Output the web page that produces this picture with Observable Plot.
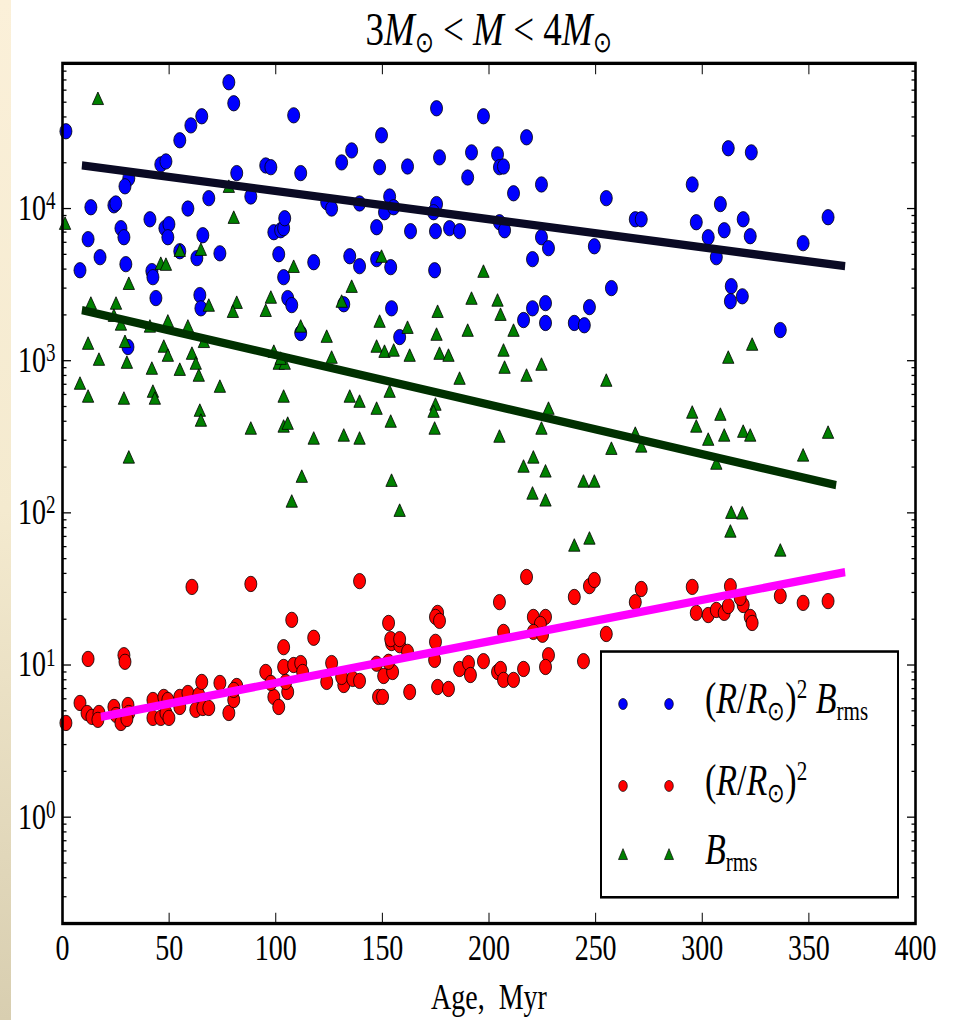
<!DOCTYPE html>
<html><head><meta charset="utf-8">
<script src="https://cdn.jsdelivr.net/npm/d3@7"></script>
<script src="https://cdn.jsdelivr.net/npm/@observablehq/plot@0.6"></script>
<style>
html,body{margin:0;padding:0;background:#fff;}
body{width:955px;height:1020px;overflow:hidden;position:relative;font-family:"Liberation Serif",serif;color:#000;}
#strip{position:absolute;left:0;top:0;width:11px;height:1020px;background:linear-gradient(#fbf0d9,#f4eacf 50%,#d8ceb0);}
#wrap{position:absolute;left:0;top:0;width:955px;height:797px;transform:scaleY(1.28);transform-origin:0 0;}
#wrap svg{position:absolute;left:0;top:0;}
#title{position:absolute;left:0;top:3px;width:977px;text-align:center;font-size:37px;line-height:40px;white-space:nowrap;}
#title sub,#legend sub{font-size:0.62em;vertical-align:-0.25em;line-height:0;}
#legend sup{font-size:0.62em;vertical-align:0.55em;line-height:0;}
#legend{position:absolute;left:600px;top:508px;width:299px;height:194px;box-sizing:border-box;border:2.5px solid #000;background:#fff;}
#legend .row{position:absolute;left:0;height:30px;width:295px;}
#legend .row svg{position:absolute;left:0;top:0;}
#legend .lab{position:absolute;left:103px;top:-7px;font-size:34px;line-height:36px;white-space:nowrap;}
</style></head>
<body>
<div id="strip"></div>
<div id="wrap">
  <div id="title">3<i>M</i><sub>⊙</sub> &lt; <i>M</i> &lt; 4<i>M</i><sub>⊙</sub></div>
</div>
<script>
// ---- data ----
const xTicks = [0, 50, 100, 150, 200, 250, 300, 350, 400];
const yMajor = [1, 10, 100, 1000, 10000];
const yMinor = [0.2,0.3,0.4,0.5,0.6,0.7,0.8,0.9, 2,3,4,5,6,7,8,9, 20,30,40,50,60,70,80,90,
  200,300,400,500,600,700,800,900, 2000,3000,4000,5000,6000,7000,8000,9000, 20000,30000,40000,50000,60000,70000,80000,90000];

const blueAge = [1.6,78,80.3,108.4,65.3,60.2,55,46.1,48.5,81.7,95.3,97.7,111.7,31.1,29.3,88.3,13.3,24.1,25,68.6,58.8,41,27.4,28.8,48,49.9,49.4,12,65.8,99.1,102.3,103.7,104.2,55,63,73.8,17.6,101.4,8.2,29.7,41.9,42.4,117.8,103.7,43.8,64.4,64.9,105.6,107.5,111.7,30.7,
  175.4,197.4,217.6,149.6,135.6,130.9,148.7,161.8,176.8,191.8,204,204.9,206.8,190,224.6,211.5,255,123.9,126.2,139.3,153.4,151,155.3,175.4,174,204.9,207.3,147.3,163.2,174.9,181.5,186.2,224.6,227.9,249.4,134.7,139.3,147.3,153.9,220.4,174.5,257.4,131.9,154.3,226.5,220.4,216.2,226.5,247.1,240,244.7,158.1,
  312.2,323,295.3,308.5,268.6,271.4,297.2,319.2,310.3,322.5,302.8,359,347.3,306.6,313.6,313.2,318.8,336.6];
const blueVal = [32200,67600,49200,41000,40400,35200,28100,19500,20400,17100,19200,18700,17100,15800,14000,12000,10200,10500,10800,11700,10000,8500,7430,6480,7430,7890,6480,6290,6680,6990,7200,7430,8640,5240,4720,5080,4790,5010,3930,4310,3880,3540,4440,3540,2580,2700,2210,2580,2320,1520,1230,
  45600,40400,29400,30300,24100,20100,18700,18900,21700,23400,22700,18700,18900,16000,14400,12600,11700,11000,10000,10800,12000,9460,10200,10700,9460,8130,7200,7540,7100,7100,7430,7100,6480,5490,5650,4860,4180,4650,4120,4650,3930,3000,2350,2210,2390,2210,1850,1770,2250,1770,1710,1430,
  24900,23400,14400,10700,8500,8500,8130,8500,7200,6580,6480,8770,5920,4790,3090,2460,2650,1590];

const redAge = [60.7,88.3,107.5,117.8,1.6,12,28.8,29.3,8.2,11.5,13.8,17.1,16.6,24.1,25.1,27.4,30.7,31.1,30.2,42.4,42.4,46.1,47.5,49.4,48.5,49.9,55,55,58.8,62.5,63.9,65.3,65.8,68.6,73.8,78,80.3,81.7,80.3,95.3,99.1,101.4,97.7,103.7,103.7,105.6,104.7,108.4,111.7,112.6,
  123.9,126.2,131.9,130.9,136.1,139.3,147.3,148.2,150.1,150.6,152.9,154.3,154.8,158.1,152.9,161.8,162.8,174.9,174.5,175.9,175.9,174.9,176.8,181,186.2,190.4,191.3,197.4,204.9,206.8,204,205.4,206.8,211.5,216.2,220.8,226.5,224.1,220.8,225.1,227.9,226.5,240,244.3,255,139.3,217.6,247.1,249.4,153.9,158.1,
  295.3,268.6,271.4,297.2,302.8,306.6,310.3,312.2,313.2,319.2,317.8,322.5,323.4,336.6,347.3,359];
const redVal = [32.6,34.1,19.8,15.1,4.16,10.96,11.6,10.5,5.63,4.84,4.56,4.84,4.36,5.3,4.7,4.16,5.46,4.84,4.42,5.89,4.49,4.49,6.17,5.89,4.84,4.49,6.17,5.3,6.55,5.07,6.36,7.74,5.22,5.22,7.62,4.84,5.89,7.28,6.86,9.0,6.17,5.3,7.62,13.1,9.71,6.65,7.74,10.0,10.3,9.0,
  7.74,10.3,7.39,8.35,8.1,7.86,10.2,6.17,6.17,8.47,18.9,13.95,9.0,13.5,10.5,12.2,6.65,14.2,10.8,7.17,22.0,20.7,19.5,6.96,9.42,10.3,8.6,10.6,25.9,16.5,9.0,9.42,7.98,7.98,9.42,20.7,20.7,18.6,16.5,15.8,11.6,9.71,28.0,10.6,16.0,35.6,37.9,33.0,36.2,14.8,14.8,
  32.6,25.9,31.6,22.0,21.3,23.0,22.0,24.4,33.0,24.8,27.6,20.7,18.9,28.4,25.6,26.3];

const greenAge = [16.6,1.2,78,80.3,55,64.9,46.1,48.5,31.1,108.4,13.3,25.1,24.1,27.4,41,49.4,58.8,68.6,81.7,79.9,97.7,95.3,111.7,12,17.1,29.3,30.2,47.5,49.4,41.9,55,60.7,62.5,63.9,66.3,73.8,8.2,12,28.8,42.4,43.3,64.4,64.9,31.1,88.3,99.1,101.4,104.2,102.3,103.7,103.7,105.6,117.8,112.2,107.5,
  123.9,126.2,148.7,161.8,147.3,151,155.3,162.8,175.9,175.4,176.8,181,190,191.8,204,205.4,211.5,206.8,207.3,186.2,217.6,224.6,255,134.7,139.3,147.3,153.4,153.9,174.9,174,174.5,131.9,139.3,154.3,158.1,227.9,224.6,204.9,257.4,220.8,216.2,226.5,244.3,249.4,220.4,226.5,240,247.1,149.6,135.6,130.9,197.4,
  323.4,312.2,295.3,297.2,308.5,302.8,310.3,319.2,322.5,359,268.6,271.4,306.6,347.3,313.6,318.8,313.2,336.6];
const greenVal = [51400,7770,13600,8510,5160,5240,4240,4180,3130,4050,2320,2320,1930,1690,1640,1770,1640,2250,2350,2050,2540,2080,1640,1265,993,1300,949,1210,1055,867,853,1087,935,780,1300,660,691,568,551,612,551,459,395,226,350,1120,935,935,1008,568,361,377,301,169,116,
  1406,1024,1765,1610,1210,1120,1140,1055,2050,1450,1087,1055,1540,2500,2430,1960,1540,1140,880,745,780,921,723,568,526,473,612,389,503,452,350,315,301,159,101,473,350,310,258,226,197,183,157,157,131,118,59.6,66.3,4720,2995,2390,3760,
  1247,1024,446,361,432,296,315,334,315,329,324,267,206,233,98,97,73.7,55.3];

const fitBlueAge = [9.1, 367], fitBlueVal = [19200, 4180];
const fitGreenAge = [9.1, 362.8], fitGreenVal = [2150, 152];
const fitRedAge = [18, 367], fitRedVal = [4.56, 40.8];

// ---- build tables ----
const rows = (a, v) => a.map((x, i) => ({age: x, val: v[i]}));
const blue = rows(blueAge, blueVal), red = rows(redAge, redVal), green = rows(greenAge, greenVal);
const fitB = rows(fitBlueAge, fitBlueVal), fitG = rows(fitGreenAge, fitGreenVal), fitR = rows(fitRedAge, fitRedVal);

const blank = () => "";
const plot = Plot.plot({
  width: 955, height: 797,
  marginLeft: 62, marginRight: 40, marginTop: 49, marginBottom: 76,
  style: {fontFamily: "'Liberation Serif', serif", fontSize: "28px", background: "transparent", color: "#000"},
  x: {domain: [0, 400]},
  y: {type: "log", domain: [0.2, 90000]},
  marks: [
    Plot.axisX({ticks: xTicks, tickSize: 0, tickPadding: 9, tickFormat: d => String(d), label: null}),
    Plot.axisX({ticks: xTicks, tickSize: -8, tickFormat: blank, label: null}),
    Plot.axisX({anchor: "top", ticks: xTicks, tickSize: -8, tickFormat: blank, label: null}),
    Plot.axisY({ticks: yMajor, tickSize: 0, tickPadding: 7, tickFormat: d => "10^" + Math.round(Math.log10(d)), label: null}),
    Plot.axisY({ticks: yMajor, tickSize: -9, tickFormat: blank, label: null}),
    Plot.axisY({ticks: yMinor, tickSize: -4.5, tickFormat: blank, label: null}),
    Plot.axisY({anchor: "right", ticks: yMajor, tickSize: -9, tickFormat: blank, label: null}),
    Plot.axisY({anchor: "right", ticks: yMinor, tickSize: -4.5, tickFormat: blank, label: null}),
    Plot.dot(blue, {x: "age", y: "val", r: 6, fill: "#0000ff", stroke: "#000", strokeWidth: 0.7}),
    Plot.dot(red, {x: "age", y: "val", r: 6, fill: "#ff0000", stroke: "#000", strokeWidth: 0.7}),
    Plot.dot(green, {x: "age", y: "val", r: 4.2, symbol: "triangle", fill: "#008000", stroke: "#000", strokeWidth: 0.7}),
    Plot.line(fitB, {x: "age", y: "val", stroke: "#0a0a24", strokeWidth: 6.5, strokeLinecap: "butt"}),
    Plot.line(fitG, {x: "age", y: "val", stroke: "#003000", strokeWidth: 6.5, strokeLinecap: "butt"}),
    Plot.line(fitR, {x: "age", y: "val", stroke: "#ff00ff", strokeWidth: 6.5, strokeLinecap: "butt"}),
    Plot.frame({stroke: "#000", strokeWidth: 2.6}),
    Plot.text(["Age,  Myr"], {frameAnchor: "bottom", dy: 58, text: d => d, fontSize: 28, lineAnchor: "middle"})
  ]
});
document.getElementById("wrap").prepend(plot);

// superscript exponents on the y tick labels
d3.select(plot).selectAll('g[aria-label="y-axis tick label"] text').each(function () {
  const t = this.textContent;
  if (t.includes("^")) {
    const [b, e] = t.split("^");
    const s = d3.select(this);
    s.text(b);
    s.append("tspan").attr("dy", "-0.45em").attr("font-size", "0.68em").text(e);
  }
});

// legend
const legendItems = [
  {fill: "#0000ff", shape: "circle", top: 25, html: '(<i>R</i>/<i>R</i><sub>⊙</sub>)<sup>2</sup> <i>B</i><sub>rms</sub>'},
  {fill: "#ff0000", shape: "circle", top: 89, html: '(<i>R</i>/<i>R</i><sub>⊙</sub>)<sup>2</sup>'},
  {fill: "#008000", shape: "triangle", top: 143, html: '<i>B</i><sub>rms</sub>'}
];
const lg = document.createElement("div");
lg.id = "legend";
for (const it of legendItems) {
  const row = document.createElement("div");
  row.className = "row";
  row.style.top = it.top + "px";
  const mk = it.shape === "circle"
    ? [21, 67].map(cx => `<circle cx="${cx}" cy="15" r="4.3" fill="${it.fill}" stroke="#000" stroke-width="0.6"/>`).join("")
    : [21, 67].map(cx => `<path d="M${cx},10 L${cx + 4.5},18.5 L${cx - 4.5},18.5 Z" fill="${it.fill}" stroke="#000" stroke-width="0.6"/>`).join("");
  row.innerHTML = `<svg width="100" height="30">${mk}</svg><span class="lab">${it.html}</span>`;
  lg.appendChild(row);
}
document.getElementById("wrap").appendChild(lg);
</script>
</body></html>
